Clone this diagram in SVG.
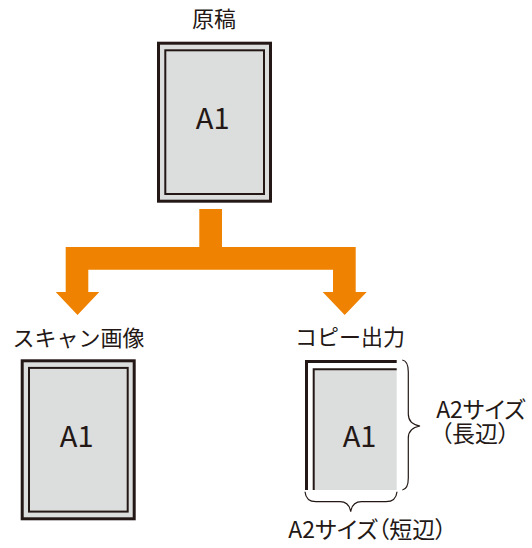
<svg xmlns="http://www.w3.org/2000/svg" width="532" height="548" viewBox="0 0 532 548">
<style>
text{font-family:"Noto Sans CJK JP","Noto Sans",sans-serif;fill:#231815;text-anchor:middle}
.lbl{font-size:22px}
.sz{font-size:23px;font-feature-settings:"palt"}
.a1{font-size:29px}
.outer{fill:#dcdddd;stroke:#231815;stroke-width:3}
.inner{fill:#dcdddd;stroke:#231815;stroke-width:2}
.line3{fill:none;stroke:#231815;stroke-width:3}
.line2{fill:none;stroke:#231815;stroke-width:2}
.brace{fill:none;stroke:#231815;stroke-width:1.2}
</style>
<g id="original">
<text class="lbl" x="214" y="26.5">原稿</text>
<rect class="outer" x="158.5" y="43.2" width="112" height="158"/>
<rect class="inner" x="165.3" y="50.3" width="98.7" height="143.7"/>
<text class="a1" x="212.7" y="129">A1</text>
</g>
<g id="connectors">
<polygon fill="#ef8200" points="199.3,209 222,209 222,247 355.7,247 355.7,292 366.7,292 344.7,315 322.7,292 333,292 333,269.7 88.3,269.7 88.3,292 99.3,292 77.5,315 55.7,292 65.7,292 65.7,247 199.3,247"/>
</g>
<g id="scan">
<text class="lbl" x="78.4" y="345.5">スキャン画像</text>
<rect class="outer" x="22.2" y="360.8" width="112" height="158"/>
<rect class="inner" x="29" y="367.9" width="98.7" height="143.7"/>
<text class="a1" x="76.7" y="447">A1</text>
</g>
<g id="copy">
<text class="lbl" x="350" y="345">コピー出力</text>
<rect fill="#dcdddd" x="313.7" y="369.3" width="83" height="120.7"/>
<path class="line3" d="M306.5 490 V361.5 H396.7"/>
<path class="line2" d="M313.7 490 V369.3 H396.7"/>
<text class="a1" x="359.5" y="446.5">A1</text>
<path class="brace" d="M402.3 360 Q408.3 361 408.3 372 V414 Q408.3 424 420 426 Q408.3 428 408.3 438 V478 Q408.3 489 402.3 490"/>
<path class="brace" d="M305 491.7 Q306 501.7 316 501.7 H340 Q349 501.7 350.7 511.7 Q352.4 501.7 361.4 501.7 H386 Q396 501.7 397 491.7"/>
<text class="sz" x="480.8" y="417.5">A2サイズ</text>
<text class="sz" x="475" y="442">（長辺）</text>
<text class="sz" x="367.5" y="537.5">A2サイズ（短辺）</text>
</g>
</svg>
